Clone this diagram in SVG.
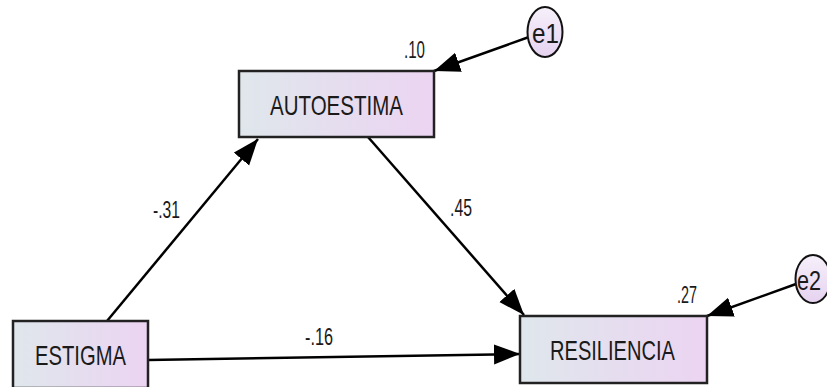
<svg xmlns="http://www.w3.org/2000/svg" width="827" height="387" viewBox="0 0 827 387">
<defs>
<linearGradient id="boxg" x1="0" y1="0" x2="1" y2="0">
<stop offset="0" stop-color="#dfe7ec"/>
<stop offset="1" stop-color="#ecd4f2"/>
</linearGradient>
<linearGradient id="ellg" x1="0" y1="0" x2="0" y2="1">
<stop offset="0" stop-color="#f6f0fa"/>
<stop offset="1" stop-color="#e6d2f0"/>
</linearGradient>
<marker id="ah" markerUnits="userSpaceOnUse" markerWidth="28" markerHeight="22" refX="26" refY="10" orient="auto">
<path d="M0,0 L26,10 L0,20 z" fill="#000"/>
</marker>
<style>
.box{fill:url(#boxg);stroke:#222;stroke-width:2.5}
.ell{fill:url(#ellg);stroke:#111;stroke-width:2}
.lbl{font-family:"Liberation Sans",Arial,sans-serif;font-size:28px;fill:#1a1a1a}
.num{font-family:"Liberation Sans",Arial,sans-serif;font-size:23px;fill:#1a1a1a}
.edge{stroke:#000;stroke-width:2.5;fill:none;marker-end:url(#ah)}
</style>
</defs>
<g id="connectors">
<line class="edge" x1="107" y1="321" x2="258" y2="139"/>
<line class="edge" x1="368" y1="137" x2="524" y2="315"/>
<line class="edge" x1="148" y1="360" x2="520" y2="354"/>
<line class="edge" x1="529" y1="37" x2="434" y2="71"/>
<line class="edge" x1="796" y1="284" x2="707" y2="316"/>
<text class="num" x="153" y="218" textLength="27" lengthAdjust="spacingAndGlyphs">-.31</text>
<text class="num" x="450" y="216" textLength="22" lengthAdjust="spacingAndGlyphs">.45</text>
<text class="num" x="305" y="345" textLength="28" lengthAdjust="spacingAndGlyphs">-.16</text>
</g>
<g id="autoestima">
<rect class="box" x="239" y="71" width="195" height="66"/>
<text class="lbl" x="270" y="115" textLength="133" lengthAdjust="spacingAndGlyphs">AUTOESTIMA</text>
<text class="num" x="404" y="58" textLength="21" lengthAdjust="spacingAndGlyphs">.10</text>
</g>
<g id="estigma">
<rect class="box" x="13" y="321" width="135" height="67"/>
<text class="lbl" x="35" y="365" textLength="91" lengthAdjust="spacingAndGlyphs">ESTIGMA</text>
</g>
<g id="resiliencia">
<rect class="box" x="520" y="316" width="187" height="67"/>
<text class="lbl" x="550" y="360" textLength="125" lengthAdjust="spacingAndGlyphs">RESILIENCIA</text>
<text class="num" x="677" y="303" textLength="20" lengthAdjust="spacingAndGlyphs">.27</text>
</g>
<g id="e1">
<ellipse class="ell" cx="545" cy="32" rx="17.5" ry="25"/>
<text class="lbl" x="532" y="43" textLength="27" lengthAdjust="spacingAndGlyphs">e1</text>
</g>
<g id="e2">
<ellipse class="ell" cx="813" cy="279" rx="17.5" ry="24"/>
<text class="lbl" x="797" y="290" textLength="24" lengthAdjust="spacingAndGlyphs">e2</text>
</g>
</svg>
